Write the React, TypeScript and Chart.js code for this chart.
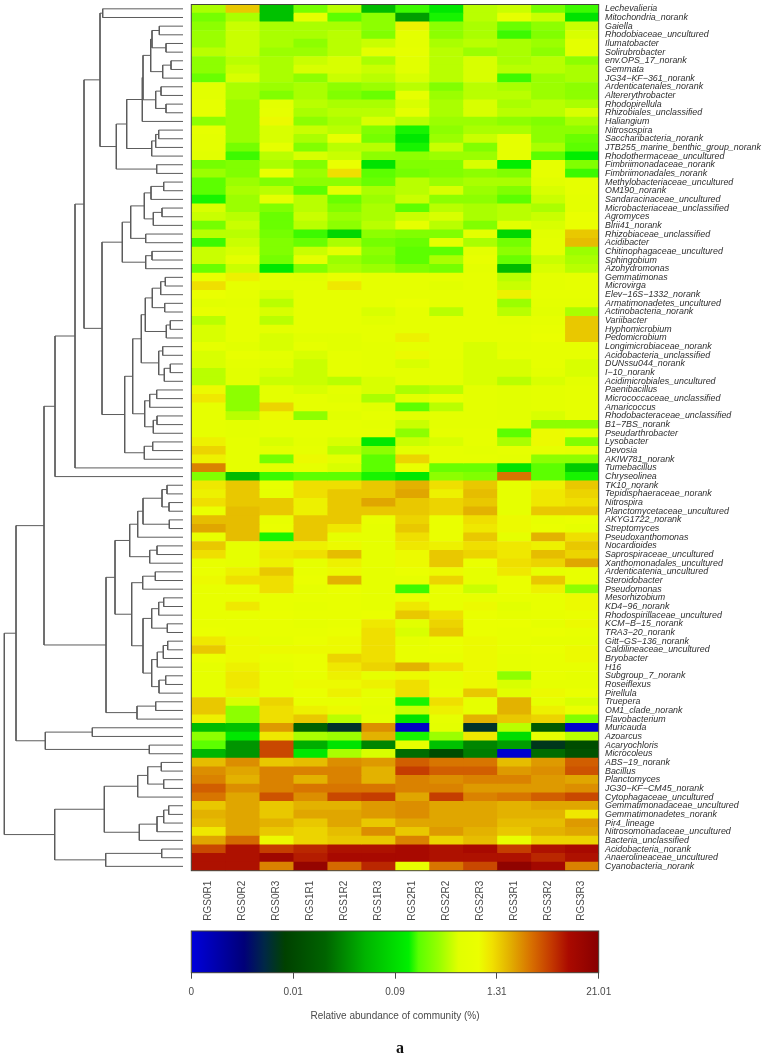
import React, { useEffect, useRef } from "react";
import { Chart, registerables } from "chart.js";

Chart.register(...registerables);

// Sample names (heat map columns)
const samples = ["RGS0R1","RGS0R2","RGS0R3","RGS1R1","RGS1R2","RGS1R3","RGS2R1","RGS2R2","RGS2R3","RGS3R1","RGS3R2","RGS3R3"];

// Taxa (heat map rows, top to bottom)
const taxa = [
"Lechevalieria","Mitochondria_norank","Gaiella","Rhodobiaceae_uncultured","Ilumatobacter","Solirubrobacter","env.OPS_17_norank","Gemmata","JG34−KF−361_norank","Ardenticatenales_norank",
"Altererythrobacter","Rhodopirellula","Rhizobiales_unclassified","Haliangium","Nitrosospira","Saccharibacteria_norank","JTB255_marine_benthic_group_norank","Rhodothermaceae_uncultured","Fimbriimonadaceae_norank","Fimbriimonadales_norank",
"Methylobacteriaceae_uncultured","OM190_norank","Sandaracinaceae_uncultured","Microbacteriaceae_unclassified","Agromyces","Blrii41_norank","Rhizobiaceae_unclassified","Acidibacter","Chitinophagaceae_uncultured","Sphingobium",
"Azohydromonas","Gemmatimonas","Microvirga","Elev−16S−1332_norank","Armatimonadetes_uncultured","Actinobacteria_norank","Variibacter","Hyphomicrobium","Pedomicrobium","Longimicrobiaceae_norank",
"Acidobacteria_unclassified","DUNssu044_norank","I−10_norank","Acidimicrobiales_uncultured","Paenibacillus","Micrococcaceae_unclassified","Amaricoccus","Rhodobacteraceae_unclassified","B1−7BS_norank","Pseudarthrobacter",
"Lysobacter","Devosia","AKIW781_norank","Tumebacillus","Chryseolinea","TK10_norank","Tepidisphaeraceae_norank","Nitrospira","Planctomycetaceae_uncultured","AKYG1722_norank",
"Streptomyces","Pseudoxanthomonas","Nocardioides","Saprospiraceae_uncultured","Xanthomonadales_uncultured","Ardenticatenia_uncultured","Steroidobacter","Pseudomonas","Mesorhizobium","KD4−96_norank",
"Rhodospirillaceae_uncultured","KCM−B−15_norank","TRA3−20_norank","Gitt−GS−136_norank","Caldilineaceae_uncultured","Bryobacter","H16","Subgroup_7_norank","Roseiflexus","Pirellula",
"Truepera","OM1_clade_norank","Flavobacterium","Muricauda","Azoarcus","Acaryochloris","Microcoleus","ABS−19_norank","Bacillus","Planctomyces",
"JG30−KF−CM45_norank","Cytophagaceae_uncultured","Gemmatimonadaceae_uncultured","Gemmatimonadetes_norank","Pir4_lineage","Nitrosomonadaceae_uncultured","Bacteria_unclassified","Acidobacteria_norank","Anaerolineaceae_uncultured","Cyanobacteria_norank",
];

// Abundance per taxon, as a position 0–100 on the (log-like) colour key
const abundance = [
[62,76,45,58,63,44,55,52,63,64,58,55],[58,62,45,68,56,60,40,54,63,68,64,51],[60,64,62,62,62,60,72,60,62,57,60,64],[61,64,62,62,63,59,67,60,62,55,59,65],
[61,64,62,60,63,64,67,62,63,62,61,67],[63,64,61,61,63,67,68,63,61,62,60,67],[60,63,62,64,65,62,66,63,65,62,63,60],[60,64,62,65,65,64,66,63,65,63,63,62],
[57,65,62,60,64,63,65,63,65,55,61,62],[66,62,61,62,60,61,63,59,63,62,61,60],[66,62,59,62,59,57,68,61,63,63,61,60],[68,61,67,63,62,62,65,62,65,62,63,62],
[68,61,68,62,63,63,67,62,65,63,63,65],[60,61,71,60,62,65,63,61,61,60,59,62],[68,61,65,64,63,59,54,60,62,62,60,60],[67,61,65,62,69,58,52,61,64,68,60,57],
[67,58,68,59,63,63,54,64,59,68,62,56],[66,55,63,65,64,60,60,61,61,68,56,53],[58,59,62,59,70,51,59,59,65,53,68,59],[61,59,70,61,74,56,58,59,60,59,68,55],
[56,61,59,60,60,57,63,61,62,62,66,68],[56,62,63,56,66,62,63,65,61,59,65,68],[54,61,68,63,57,61,64,60,60,56,64,67],[65,61,59,63,59,62,56,63,62,63,62,67],
[64,63,57,64,61,62,64,65,62,63,64,70],[58,64,57,63,60,63,68,63,59,66,65,70],[63,63,58,55,49,60,59,59,67,49,66,76],[55,64,59,57,62,58,57,67,62,58,67,77],
[64,65,59,64,67,60,56,56,67,60,67,61],[64,67,58,67,61,59,56,62,69,57,64,62],[57,64,52,59,62,61,59,58,67,44,65,63],[70,72,67,66,70,68,68,68,68,63,67,68],
[74,68,67,67,73,68,68,66,68,64,67,68],[70,68,65,68,68,68,68,68,68,72,68,68],[66,67,63,68,68,68,70,68,68,61,67,67],[69,68,65,68,68,65,68,63,68,63,66,62],
[63,68,63,68,68,66,68,68,68,67,68,76],[65,68,67,68,68,68,68,68,68,68,69,76],[65,68,65,66,66,68,72,68,68,68,70,76],[68,66,65,68,66,67,68,68,65,67,68,68],
[65,69,67,65,68,67,71,68,65,68,68,68],[65,67,66,64,68,67,65,67,65,65,68,65],[63,66,65,64,68,67,67,67,65,65,67,65],[63,66,64,64,63,65,67,67,65,63,65,67],
[71,60,67,65,67,65,62,63,67,66,67,68],[73,60,67,68,66,62,66,70,67,66,67,68],[68,60,75,68,68,66,56,63,67,66,67,68],[68,63,71,60,66,68,66,67,67,66,65,68],
[68,67,68,68,68,67,64,67,67,68,60,60],[68,67,68,68,68,68,60,68,68,56,71,68],[72,68,65,67,65,52,64,65,68,62,71,59],[75,68,67,68,63,60,67,68,67,68,68,67],
[72,68,58,71,67,56,75,68,68,67,60,60],[82,68,67,68,65,56,69,57,57,51,56,47],[59,44,55,56,56,54,52,60,59,83,56,54],[73,76,69,74,74,76,78,74,76,68,72,76],
[72,76,68,74,76,76,79,72,77,68,73,75],[74,76,76,72,76,79,76,75,76,68,73,74],[70,77,76,72,76,76,76,75,78,68,76,76],[77,77,69,76,76,69,75,70,74,71,69,70],
[79,77,70,76,73,68,76,70,73,71,70,68],[69,77,54,76,68,68,74,70,76,68,78,74],[76,68,72,72,71,68,73,72,74,73,72,76],[74,68,73,74,77,68,71,76,75,73,77,75],
[69,68,72,68,72,68,71,76,70,74,75,79],[70,72,76,69,71,68,70,71,68,73,68,69],[71,74,74,70,78,68,68,75,68,70,76,69],[69,69,74,68,70,68,55,69,64,70,72,60],
[69,69,69,69,69,68,70,69,69,69,69,71],[69,73,69,68,69,68,73,69,71,66,69,71],[69,69,70,69,69,70,76,74,70,68,69,70],[69,69,69,68,69,73,66,75,70,70,68,71],
[70,69,69,69,70,74,65,76,70,69,70,69],[73,71,68,70,71,74,68,70,71,69,68,68],[76,71,71,71,71,74,69,70,71,69,70,71],[70,71,69,70,75,74,69,69,71,68,69,71],
[68,72,68,70,73,75,78,74,71,68,69,69],[68,73,68,69,72,68,71,68,71,60,69,68],[68,73,68,71,71,72,74,68,71,65,68,68],[68,72,68,70,72,68,74,69,76,66,71,70],
[76,65,75,69,69,68,54,74,68,78,68,65],[76,60,74,72,71,67,64,72,68,78,72,70],[72,60,74,76,63,68,51,68,78,76,75,59],[44,45,80,32,20,81,3,67,20,63,30,2],
[60,52,73,62,61,78,54,61,73,50,68,63],[56,39,87,42,51,37,68,45,37,40,21,26],[43,39,87,52,62,65,34,26,36,2,34,28],[77,81,76,77,81,80,85,83,83,77,80,85],
[81,79,82,82,82,78,88,85,85,80,81,86],[82,78,82,78,82,78,82,81,82,82,80,79],[85,81,82,83,83,83,82,82,80,80,80,81],[83,79,86,81,87,88,79,88,82,83,85,87],
[76,79,76,78,78,80,81,79,79,78,79,79],[78,79,76,79,79,80,81,79,79,78,78,73],[77,79,78,76,79,76,79,79,79,77,77,80],[73,79,76,75,77,81,76,80,78,76,78,79],
[79,84,71,75,76,76,82,75,77,69,75,75],[87,92,88,90,92,92,93,92,93,88,92,93],[92,92,95,91,93,93,93,92,92,92,90,92],[92,92,82,97,84,90,69,83,87,98,94,82],
];

// Colour key
const keyPositions = [0,13,18,23,33,42.7,53.4,55.8,60.7,65.6,70.5,73.8,78.7,83.6,88.5,92.6,100];
const keyColors: number[][] = [[0,0,220],[0,0,120],[0,40,70],[0,65,0],[0,100,0],[0,180,0],[0,240,0],[90,255,0],[150,255,0],[225,255,0],[235,255,0],[240,225,0],[225,170,0],[215,110,0],[195,55,0],[170,10,0],[135,0,0]];
const keyTickLabels = ["0","0.01","0.09","1.31","21.01"];

// Row dendrogram: [merge height, left, right]; a number is a row (1-based)
type Node = number | [number, Node, Node];
const clusterTop: Node = [83, [80.3,1,2], [66.7,
  [56.3,
    [40.7,[40,[32.3,[31,[23.7,3,4],[17,5,6]],[20.3,[12,7,8],9]],[27.3,[22,10,11],[17,12,13]]],14],
    [31.3,[27.3,[24.3,15,16],17],18]],
  [26.3,19,20]]];
const clusterMid: Node = [81,
  [60.7,[52.3,[38.7,[32,[19.3,21,22],23],[29.7,[21,24,25],26]],[37.3,27,28]],[37.3,[31,29,30],31]],
  [58.3,
    [50.3,
      [41.7,
        [37.7,[30.7,[22.3,[17.7,32,33],34],[18.3,35,36]],[16.7,[12.7,37,38],39]],
        [24.3,[20.3,40,41],[18.7,[12.7,42,43],44]]],
      [38.3,[33.3,[26.3,45,46],47],[29.7,[26,48,49],50]]],
    [38.7,[30.3,51,52],53]]];
const clusterLow: Node = [77,
  [68,
    [53.3,[45.3,[40,[21,[16,56,57],[14,58,59]],[13.7,60,61]],62],[33.3,[26,63,64],65]],
    [51.3,[40.3,[27.7,66,67],68],
      [40,[31.3,[24.3,[19.3,69,70],71],[15.7,72,73]],
          [31.3,[25.7,[19.7,[15.3,74,75],76],77],[24,[17.3,78,79],80]]]]],
  [46,[27.3,81,82],83]];
const clusterBottom: Node = [128.3,
  [78.7,[45.3,[35.3,[21.7,88,89],[19.3,90,91]],92],[43.7,[26,[19.3,[14.3,93,94],95],96],97]],
  [77.3,[21.3,98,99],100]];
const rowTree: Node = [178.7,
  [167,[139,[128,[108,[99,clusterTop,clusterMid],54],55],clusterLow],[137.7,[90.7,84,85],[33.7,86,87]]],
  clusterBottom];

const WIDTH = 765, HEIGHT = 1060;
const PLOT = { left: 191.3, right: 598.7, top: 4.5, bottom: 870.7 };
const KEY = { top: 931, bottom: 972.7 };
const DEND_RIGHT = 183;
const FONT = "'Liberation Sans', Arial, sans-serif";
const INK = "#4a4a4a";

function keyColor(v: number) {
  for (let i = 1; i < keyPositions.length; i++) {
    if (v <= keyPositions[i]) {
      const t = (v - keyPositions[i - 1]) / (keyPositions[i] - keyPositions[i - 1]);
      const a = keyColors[i - 1], b = keyColors[i];
      return `rgb(${a.map((c, k) => Math.round(c + (b[k] - c) * t)).join(",")})`;
    }
  }
  return `rgb(${keyColors[keyColors.length - 1].join(",")})`;
}

function treeSegments(node: Node, out: { x: number; y: number }[][]): { h: number; y: number } {
  if (typeof node === "number") return { h: 0, y: node - 0.5 };
  const [h, a, b] = node;
  const l = treeSegments(a, out), r = treeSegments(b, out);
  out.push([{ x: l.h, y: l.y }, { x: h, y: l.y }, { x: h, y: r.y }, { x: r.h, y: r.y }]);
  return { h, y: (l.y + r.y) / 2 };
}

const frame = {
  id: "frame",
  afterDraw(chart: any) {
    const { ctx, chartArea: a } = chart;
    ctx.save();
    ctx.strokeStyle = "#45453a";
    ctx.lineWidth = 1;
    ctx.strokeRect(a.left, a.top, a.right - a.left, a.bottom - a.top);
    ctx.restore();
  },
};

const noAxisPadding = (axis: any) => {
  axis.paddingTop = 0; axis.paddingBottom = 0; axis.paddingLeft = 0; axis.paddingRight = 0;
};

export default function App() {
  const dendRef = useRef<HTMLCanvasElement>(null);
  const heatRef = useRef<HTMLCanvasElement>(null);
  const keyRef = useRef<HTMLCanvasElement>(null);

  useEffect(() => {
    const segs: { x: number; y: number }[][] = [];
    treeSegments(rowTree, segs);
    const dend = new Chart(dendRef.current!, {
      type: "scatter",
      data: {
        datasets: segs.map((s) => ({
          data: s, showLine: true, pointRadius: 0, borderColor: "#5c5c5c", borderWidth: 1, clip: false as any, tension: 0,
        })),
      },
      options: {
        animation: false, responsive: false,
        layout: { padding: { left: 0, right: WIDTH - DEND_RIGHT, top: PLOT.top, bottom: HEIGHT - PLOT.bottom } },
        plugins: { legend: { display: false }, tooltip: { enabled: false } },
        scales: {
          x: { type: "linear", reverse: true, min: 0, max: DEND_RIGHT, display: false },
          y: { type: "linear", reverse: true, min: 0, max: taxa.length, display: false },
        },
      },
    });

    const heat = new Chart(heatRef.current!, {
      type: "bar",
      data: {
        labels: taxa,
        datasets: samples.map((name, c) => ({
          label: name,
          data: taxa.map(() => [c, c + 1]) as any,
          backgroundColor: abundance.map((row) => keyColor(row[c])),
          borderWidth: 0,
          barPercentage: 1,
          categoryPercentage: 1,
          grouped: false,
        })),
      },
      options: {
        indexAxis: "y",
        animation: false, responsive: false,
        layout: { padding: { left: PLOT.left, top: PLOT.top, right: 0, bottom: 0 } },
        plugins: { legend: { display: false }, tooltip: { enabled: false } },
        scales: {
          x: {
            type: "linear", min: 0, max: samples.length,
            afterBuildTicks: (axis: any) => { axis.ticks = samples.map((_, i) => ({ value: i + 0.5 })); },
            afterFit: (axis: any) => { axis.height = HEIGHT - PLOT.bottom; noAxisPadding(axis); },
            grid: { display: false, drawTicks: false }, border: { display: false },
            ticks: {
              autoSkip: false, minRotation: 90, maxRotation: 90, padding: 10, color: INK,
              font: { family: FONT, size: 10 },
              callback: (v: any) => samples[Math.floor(Number(v))],
            },
          },
          y: {
            type: "category", position: "right",
            afterFit: (axis: any) => { axis.width = WIDTH - PLOT.right; noAxisPadding(axis); },
            grid: { display: false, drawTicks: false }, border: { display: false },
            ticks: {
              autoSkip: false, padding: 6.3, color: "#2e2e2e",
              font: { family: FONT, size: 8.9, style: "italic" },
            },
          },
        },
      },
      plugins: [frame],
    });

    const key = new Chart(keyRef.current!, {
      type: "bar",
      data: {
        labels: ["Relative abundance of community (%)"],
        datasets: [{
          data: [[0, keyTickLabels.length - 1]] as any,
          backgroundColor: (ctx: any) => {
            const a = ctx.chart.chartArea;
            if (!a) return "#000";
            const g = ctx.chart.ctx.createLinearGradient(a.left, 0, a.right, 0);
            keyPositions.forEach((p, i) => g.addColorStop(p / 100, `rgb(${keyColors[i].join(",")})`));
            return g;
          },
          borderWidth: 0, barPercentage: 1, categoryPercentage: 1,
        }],
      },
      options: {
        indexAxis: "y",
        animation: false, responsive: false,
        layout: { padding: { left: PLOT.left, right: WIDTH - PLOT.right, top: KEY.top, bottom: 38 } },
        plugins: { legend: { display: false }, tooltip: { enabled: false } },
        scales: {
          x: {
            type: "linear", min: 0, max: keyTickLabels.length - 1,
            afterFit: (axis: any) => { axis.height = HEIGHT - KEY.bottom - 38; noAxisPadding(axis); },
            grid: { drawOnChartArea: false, drawTicks: true, tickLength: 6, color: "#4a4a4a" },
            border: { display: false },
            ticks: {
              stepSize: 1, autoSkip: false, maxRotation: 0, padding: 8, color: INK,
              font: { family: FONT, size: 10 },
              callback: (v: any) => keyTickLabels[Number(v)],
            },
            title: { display: true, text: "Relative abundance of community (%)", color: INK, font: { family: FONT, size: 10 }, padding: 0 },
          },
          y: { type: "category", display: false },
        },
      },
      plugins: [frame],
    });

    return () => { dend.destroy(); heat.destroy(); key.destroy(); };
  }, []);

  const layer: React.CSSProperties = { position: "absolute", left: 0, top: 0 };
  return (
    <div style={{ position: "absolute", left: 0, top: 0, width: WIDTH, height: HEIGHT, background: "#fff", overflow: "hidden" }}>
      <canvas ref={dendRef} width={WIDTH} height={HEIGHT} style={layer} />
      <canvas ref={heatRef} width={WIDTH} height={HEIGHT} style={layer} />
      <canvas ref={keyRef} width={WIDTH} height={HEIGHT} style={layer} />
      <div style={{ position: "absolute", left: 380, width: 40, top: 1038, textAlign: "center", fontFamily: "'Liberation Serif', serif", fontWeight: 700, fontSize: 16, lineHeight: "20px", color: "#111" }}>a</div>
    </div>
  );
}
